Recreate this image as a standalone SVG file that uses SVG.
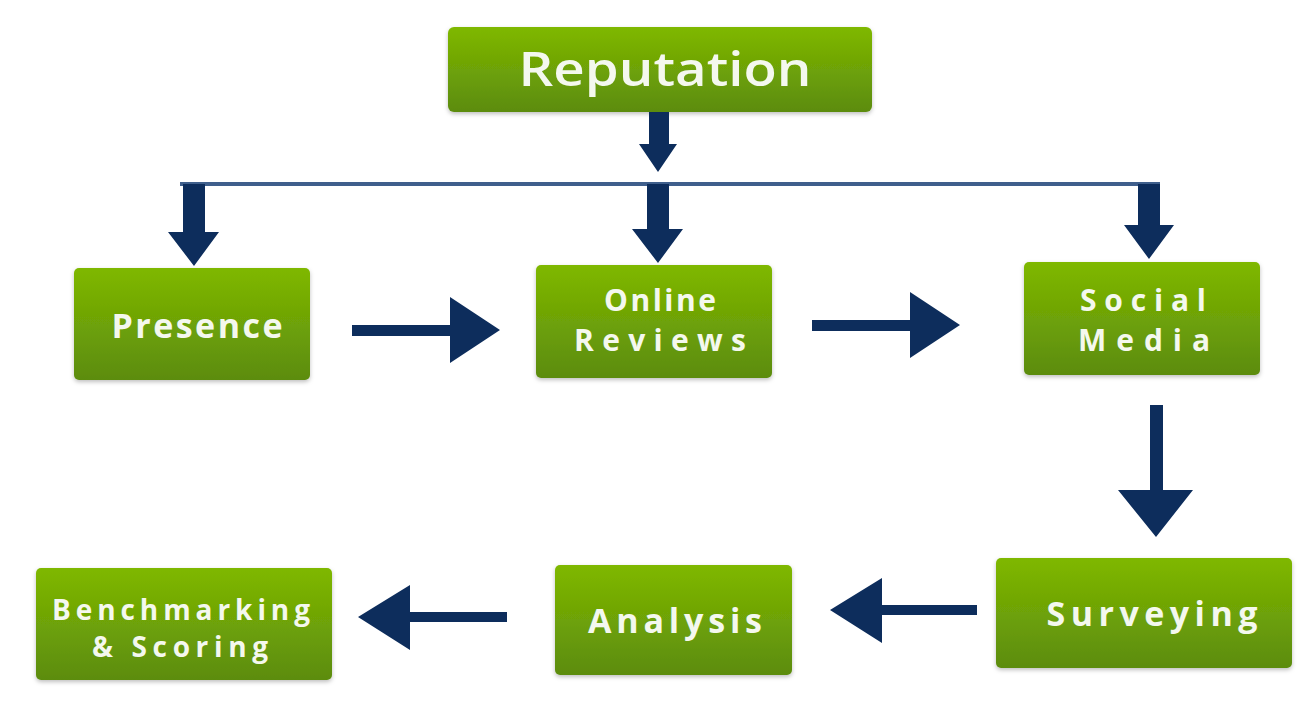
<svg xmlns="http://www.w3.org/2000/svg" width="1314" height="720" viewBox="0 0 1314 720">
<defs>
<linearGradient id="g" x1="0" y1="0" x2="0" y2="1">
<stop offset="0" stop-color="#7fb800"/>
<stop offset="1" stop-color="#5c8c0e"/>
</linearGradient>
<filter id="sh" x="-5%" y="-5%" width="110%" height="115%">
<feDropShadow dx="0" dy="2" stdDeviation="2" flood-color="#000" flood-opacity="0.25"/>
</filter>
<style>
.box{fill:url(#g);filter:url(#sh);}
.t{fill:#f4f8ee;font-family:"Open Sans","DejaVu Sans",sans-serif;font-weight:bold;text-anchor:middle;}
.r{fill:#f4f8ee;font-family:"Open Sans","DejaVu Sans",sans-serif;font-weight:600;text-anchor:middle;}
.a{fill:#0d2d5c;}
</style>
</defs>
<rect width="1314" height="720" fill="#ffffff"/>
<g id="reputation"><rect class="box" x="448" y="27" width="424" height="85" rx="6"/><text class="r" x="665" y="86" font-size="47" textLength="293" lengthAdjust="spacingAndGlyphs">Reputation</text></g>
<g id="presence"><rect class="box" x="74" y="268" width="236" height="112" rx="5"/><text class="t" x="197" y="338" font-size="34" textLength="171" lengthAdjust="spacing">Presence</text></g>
<g id="online-reviews"><rect class="box" x="536" y="265" width="236" height="113" rx="5"/><text class="t" font-size="30"><tspan x="660" y="311" textLength="112" lengthAdjust="spacing">Online</tspan><tspan x="660" y="351" textLength="172" lengthAdjust="spacing">Reviews</tspan></text></g>
<g id="social-media"><rect class="box" x="1024" y="262" width="236" height="113" rx="5"/><text class="t" font-size="30"><tspan x="1143" y="311" textLength="126" lengthAdjust="spacing">Social</tspan><tspan x="1144" y="351" textLength="132" lengthAdjust="spacing">Media</tspan></text></g>
<g id="surveying"><rect class="box" x="996" y="558" width="296" height="110" rx="5"/><text class="t" x="1152" y="626" font-size="34" textLength="211" lengthAdjust="spacing">Surveying</text></g>
<g id="analysis"><rect class="box" x="555" y="565" width="237" height="110" rx="5"/><text class="t" x="675" y="633" font-size="34" textLength="174" lengthAdjust="spacing">Analysis</text></g>
<g id="benchmarking"><rect class="box" x="36" y="568" width="296" height="112" rx="5"/><text class="t" font-size="28"><tspan x="181" y="620" textLength="258" lengthAdjust="spacing">Benchmarking</tspan><tspan x="180" y="657" textLength="176" lengthAdjust="spacing">&amp; Scoring</tspan></text></g>
<g id="connectors">
<rect x="180" y="182" width="980" height="4" fill="#3f5f8c"/>
<polygon class="a" points="649,112 669,112 669,144 677,144 658,172 639,144 649,144"/>
<polygon class="a" points="183,184 205,184 205,232 219,232 194,266 168,232 183,232"/>
<polygon class="a" points="647,184 669,184 669,229 683,229 658,263 632,229 647,229"/>
<polygon class="a" points="1138,184 1160,184 1160,225 1174,225 1149,259 1124,225 1138,225"/>
<polygon class="a" points="352,325 450,325 450,297 500,330 450,363 450,336 352,336"/>
<polygon class="a" points="812,320 910,320 910,292 960,325 910,358 910,331 812,331"/>
<polygon class="a" points="1150,405 1163,405 1163,490 1193,490 1156,537 1118,490 1150,490"/>
<polygon class="a" points="977,605 882,605 882,578 830,610 882,643 882,615 977,615"/>
<polygon class="a" points="507,612 410,612 410,585 358,617 410,650 410,622 507,622"/>
</g>
</svg>
